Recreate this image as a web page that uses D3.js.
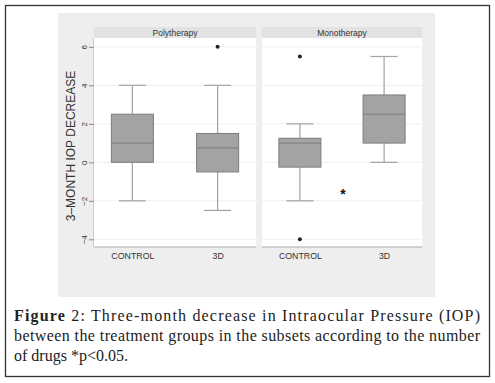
<!DOCTYPE html>
<html><head><meta charset="utf-8">
<script src="https://cdn.jsdelivr.net/npm/d3@7"></script>
<style>body{margin:0;background:#fff}svg{display:block}</style>
</head><body>
<script>
const panels = ["Polytherapy", "Monotherapy"];
const groups = ["CONTROL", "3D"];
// per panel, per group: [lowerWhisker, q1, median, q3, upperWhisker]
const polyStats = [[-2, 0, 1, 2.5, 4], [-2.5, -0.5, 0.75, 1.5, 4]];
const monoStats = [[-2, -0.25, 1, 1.25, 2], [0, 1, 2.5, 3.5, 5.5]];
const polyOutliers = [[], [6]];
const monoOutliers = [[5.5, -4], []];
const yTicks = [-4, -2, 0, 2, 4, 6];
const yTitle = "3\u2013MONTH IOP DECREASE";
const captionLines = [
  ["Figure", " 2: Three-month decrease in Intraocular Pressure (IOP)"],
  ["", "between the treatment groups in the subsets according to the number"],
  ["", "of drugs *p<0.05."]
];

const W = 495, H = 383;
const sans = "Liberation Sans, Arial, sans-serif";
const svg = d3.select("body").append("svg").attr("width", W).attr("height", H);
svg.append("rect").attr("x", 0).attr("y", 0).attr("width", W).attr("height", H).attr("fill", "#fff");
svg.append("rect").attr("x", 5.5).attr("y", 5.5).attr("width", 484).attr("height", 371)
  .attr("fill", "none").attr("stroke", "#333").attr("stroke-width", 1.3);
svg.append("rect").attr("x", 58).attr("y", 13).attr("width", 377).attr("height", 284).attr("fill", "#eeeeee");

const y = d3.scaleLinear().domain([-4.4, 6.46]).range([247, 38]);
const panelX = [[94, 256], [262, 422]];
const stats = [polyStats, monoStats];
const outs = [polyOutliers, monoOutliers];

// y axis
const yAxis = d3.axisLeft(y).tickValues(yTicks).tickSize(5).tickFormat(d3.format("d"));
const ya = svg.append("g").attr("transform", "translate(94,0)").call(yAxis);
ya.select(".domain").attr("stroke", "#aaa").attr("d", `M0,${y.range()[0]}V38`);
ya.selectAll(".tick line").attr("stroke", "#888");
ya.selectAll(".tick text").attr("font-family", sans).attr("font-size", 8)
  .attr("fill", "#333").attr("text-anchor", "middle")
  .attr("x", 0).attr("y", 0).attr("dy", "0.35em").attr("transform", "translate(-10,0) rotate(-90)");

svg.append("text").attr("transform", "translate(75,146) rotate(-90)")
  .attr("text-anchor", "middle").attr("font-family", sans)
  .attr("font-size", 12).attr("fill", "#333").text(yTitle);

panels.forEach((p, i) => {
  const [x0, x1] = panelX[i];
  const g = svg.append("g");
  g.append("rect").attr("x", x0).attr("y", 27).attr("width", x1 - x0).attr("height", 11).attr("fill", "#e2e2e2");
  g.append("text").attr("x", (x0 + x1) / 2).attr("y", 35.5).attr("text-anchor", "middle")
    .attr("font-family", sans).attr("font-size", 8.5).attr("fill", "#333").text(p);
  g.append("rect").attr("x", x0).attr("y", 38).attr("width", x1 - x0).attr("height", 209).attr("fill", "#fff");
  yTicks.forEach(t => {
    g.append("line").attr("x1", x0).attr("x2", x1).attr("y1", y(t)).attr("y2", y(t))
      .attr("stroke", "#eaf1f1").attr("stroke-width", 1);
  });
  const x = d3.scalePoint().domain(groups).range([x0, x1]).padding(0.45);
  const xa = g.append("g").attr("transform", "translate(0,247)").call(d3.axisBottom(x).tickSize(0).tickPadding(6));
  xa.select(".domain").attr("stroke", "#aaa").attr("d", `M${x0},0H${x1}`);
  xa.selectAll(".tick text").attr("font-family", sans).attr("font-size", 8.8).attr("fill", "#333");

  groups.forEach((gname, j) => {
    const [lw, q1, med, q3, uw] = stats[i][j];
    const cx = x(gname);
    const bw = 42, cw = 27;
    const wc = "#a2a2a2";
    g.append("line").attr("x1", cx).attr("x2", cx).attr("y1", y(uw)).attr("y2", y(q3)).attr("stroke", wc).attr("stroke-width", 1.2);
    g.append("line").attr("x1", cx).attr("x2", cx).attr("y1", y(q1)).attr("y2", y(lw)).attr("stroke", wc).attr("stroke-width", 1.2);
    g.append("line").attr("x1", cx - cw / 2).attr("x2", cx + cw / 2).attr("y1", y(uw)).attr("y2", y(uw)).attr("stroke", wc).attr("stroke-width", 1.2);
    g.append("line").attr("x1", cx - cw / 2).attr("x2", cx + cw / 2).attr("y1", y(lw)).attr("y2", y(lw)).attr("stroke", wc).attr("stroke-width", 1.2);
    g.append("rect").attr("x", cx - bw / 2).attr("y", y(q3)).attr("width", bw).attr("height", y(q1) - y(q3))
      .attr("fill", "#a3a3a3").attr("stroke", "#7c7c7c").attr("stroke-width", 1);
    g.append("line").attr("x1", cx - bw / 2).attr("x2", cx + bw / 2).attr("y1", y(med)).attr("y2", y(med))
      .attr("stroke", "#7c7c7c").attr("stroke-width", 1);
    outs[i][j].forEach(v => {
      g.append("circle").attr("cx", cx).attr("cy", y(v)).attr("r", 2).attr("fill", "#222");
    });
  });
});

// significance asterisk
svg.append("text").attr("x", 343).attr("y", 199).attr("text-anchor", "middle")
  .attr("font-family", sans).attr("font-weight", "bold").attr("font-size", 14).attr("fill", "#111").text("*");

// caption
const cap = svg.append("g").attr("font-family", "Liberation Serif, Times New Roman, serif").attr("font-size", 16).attr("fill", "#222");
const baselines = [321, 341, 361];
captionLines.forEach((ln, k) => {
  const t = cap.append("text").attr("x", 14).attr("y", baselines[k]);
  if (k < 2) t.attr("textLength", 466).attr("lengthAdjust", "spacing");
  if (ln[0]) t.append("tspan").attr("font-weight", "bold").text(ln[0]);
  t.append("tspan").text(ln[1]);
});
</script>
</body></html>
